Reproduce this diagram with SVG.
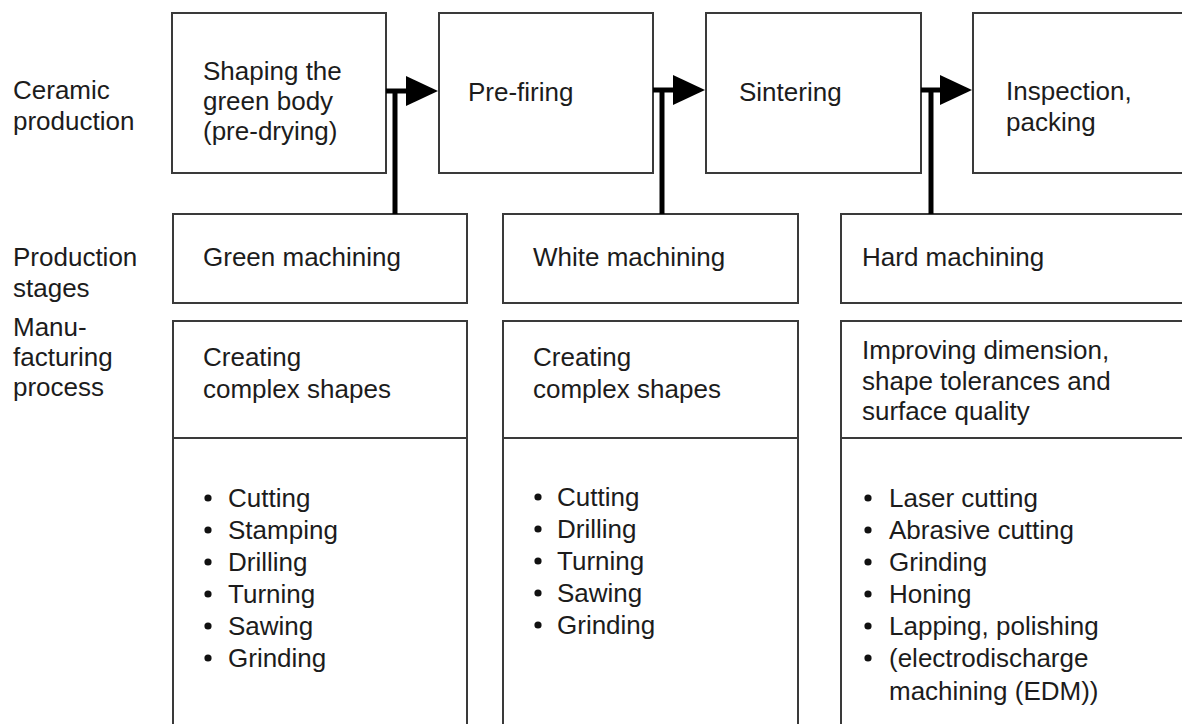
<svg xmlns="http://www.w3.org/2000/svg" width="1182" height="724" viewBox="0 0 1182 724">
  <style>
    .box { fill: #ffffff; stroke: #3a3a3a; stroke-width: 2; }
    .rule { stroke: #3a3a3a; stroke-width: 2; fill: none; }
    .flow { stroke: #000000; stroke-width: 5; fill: none; }
    text { font-family: "Liberation Sans", Arial, sans-serif; font-size: 26px; fill: #1c1c1c; }
    .dot { fill: #111111; }
  </style>
  <defs>
    <marker id="head" markerUnits="userSpaceOnUse" viewBox="0 0 32 30" refX="2" refY="15" markerWidth="32" markerHeight="30" orient="auto">
      <path d="M0,0 L32,15 L0,30 z" fill="#000000"/>
    </marker>
  </defs>
  <rect width="1182" height="724" fill="#ffffff"/>

  <!-- row labels -->
  <g id="row-labels">
    <text x="13" y="99">Ceramic</text>
    <text x="13" y="130">production</text>
    <text x="13" y="266">Production</text>
    <text x="13" y="297">stages</text>
    <text x="13" y="336">Manu-</text>
    <text x="13" y="366">facturing</text>
    <text x="13" y="396">process</text>
  </g>

  <!-- ceramic production steps -->
  <g id="shaping">
    <rect class="box" x="172" y="13" width="214" height="160"/>
    <text x="203" y="80">Shaping the</text>
    <text x="203" y="110">green body</text>
    <text x="203" y="140">(pre-drying)</text>
  </g>
  <g id="prefiring">
    <rect class="box" x="439" y="13" width="214" height="160"/>
    <text x="468" y="101">Pre-firing</text>
  </g>
  <g id="sintering">
    <rect class="box" x="706" y="13" width="215" height="160"/>
    <text x="739" y="101">Sintering</text>
  </g>
  <g id="inspection">
    <rect class="box" x="973" y="13" width="230" height="160"/>
    <text x="1006" y="100">Inspection,</text>
    <text x="1006" y="131">packing</text>
  </g>

  <!-- production stages -->
  <g id="green-machining">
    <rect class="box" x="173" y="214" width="294" height="89"/>
    <text x="203" y="266">Green machining</text>
  </g>
  <g id="white-machining">
    <rect class="box" x="503" y="214" width="295" height="89"/>
    <text x="533" y="266">White machining</text>
  </g>
  <g id="hard-machining">
    <rect class="box" x="841" y="214" width="360" height="89"/>
    <text x="862" y="266">Hard machining</text>
  </g>

  <!-- manufacturing process columns -->
  <g id="process-green">
    <rect class="box" x="173" y="321" width="294" height="420"/>
    <line class="rule" x1="173" y1="438" x2="467" y2="438"/>
    <text x="203" y="366">Creating</text>
    <text x="203" y="398">complex shapes</text>
    <circle class="dot" cx="208" cy="498" r="3.6"/>
    <text x="228" y="507">Cutting</text>
    <circle class="dot" cx="208" cy="530" r="3.6"/>
    <text x="228" y="539">Stamping</text>
    <circle class="dot" cx="208" cy="562" r="3.6"/>
    <text x="228" y="571">Drilling</text>
    <circle class="dot" cx="208" cy="594" r="3.6"/>
    <text x="228" y="603">Turning</text>
    <circle class="dot" cx="208" cy="626" r="3.6"/>
    <text x="228" y="635">Sawing</text>
    <circle class="dot" cx="208" cy="658" r="3.6"/>
    <text x="228" y="667">Grinding</text>
  </g>
  <g id="process-white">
    <rect class="box" x="503" y="321" width="295" height="420"/>
    <line class="rule" x1="503" y1="438" x2="798" y2="438"/>
    <text x="533" y="366">Creating</text>
    <text x="533" y="398">complex shapes</text>
    <circle class="dot" cx="538" cy="497" r="3.6"/>
    <text x="557" y="506">Cutting</text>
    <circle class="dot" cx="538" cy="529" r="3.6"/>
    <text x="557" y="538">Drilling</text>
    <circle class="dot" cx="538" cy="561" r="3.6"/>
    <text x="557" y="570">Turning</text>
    <circle class="dot" cx="538" cy="593" r="3.6"/>
    <text x="557" y="602">Sawing</text>
    <circle class="dot" cx="538" cy="625" r="3.6"/>
    <text x="557" y="634">Grinding</text>
  </g>
  <g id="process-hard">
    <rect class="box" x="841" y="321" width="360" height="420"/>
    <line class="rule" x1="841" y1="438" x2="1201" y2="438"/>
    <text x="862" y="359">Improving dimension,</text>
    <text x="862" y="390">shape tolerances and</text>
    <text x="862" y="420">surface quality</text>
    <circle class="dot" cx="868" cy="498" r="3.6"/>
    <text x="889" y="507">Laser cutting</text>
    <circle class="dot" cx="868" cy="530" r="3.6"/>
    <text x="889" y="539">Abrasive cutting</text>
    <circle class="dot" cx="868" cy="562" r="3.6"/>
    <text x="889" y="571">Grinding</text>
    <circle class="dot" cx="868" cy="594" r="3.6"/>
    <text x="889" y="603">Honing</text>
    <circle class="dot" cx="868" cy="626" r="3.6"/>
    <text x="889" y="635">Lapping, polishing</text>
    <circle class="dot" cx="868" cy="658" r="3.6"/>
    <text x="889" y="667">(electrodischarge</text>
    <text x="889" y="700">machining (EDM))</text>
  </g>

  <!-- flow arrows and stage branches -->
  <g id="connectors">
    <path class="flow" d="M386,91 H408" marker-end="url(#head)"/>
    <path class="flow" d="M395,91 V214"/>
    <path class="flow" d="M653,90 H675" marker-end="url(#head)"/>
    <path class="flow" d="M662,90 V214"/>
    <path class="flow" d="M921,90 H942" marker-end="url(#head)"/>
    <path class="flow" d="M931,90 V214"/>
  </g>
</svg>
